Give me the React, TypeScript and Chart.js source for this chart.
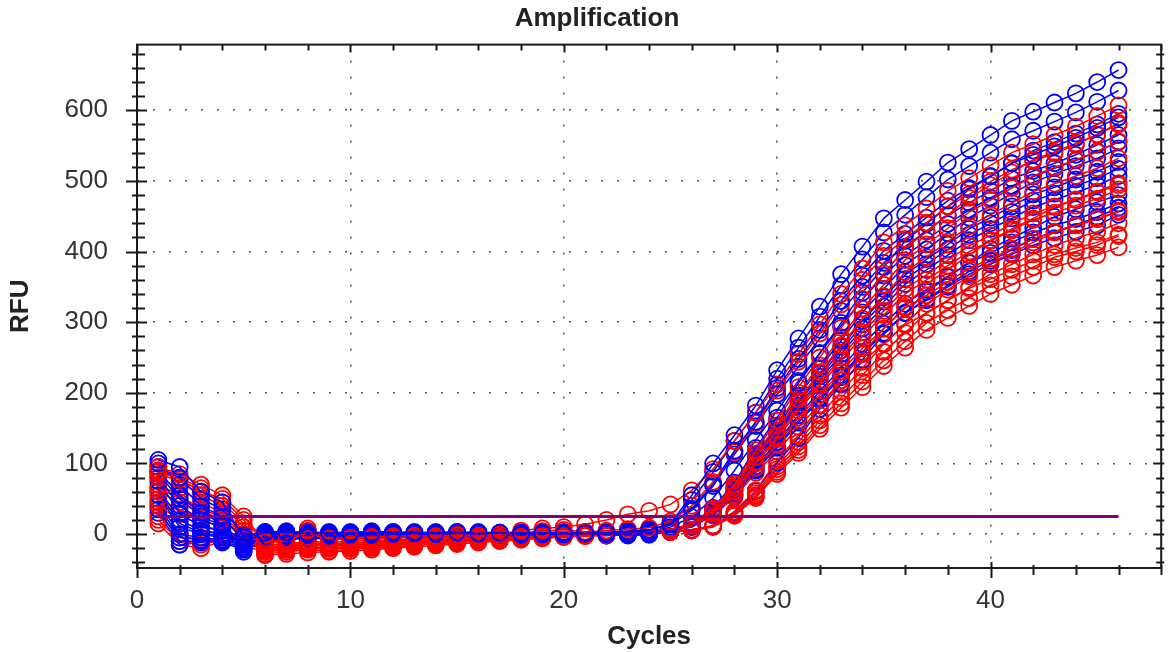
import React, { useEffect, useRef } from "react";
import { Chart, registerables } from "chart.js";

Chart.register(...registerables);

const CYCLES = [1, 2, 3, 4, 5, 6, 7, 8, 9, 10, 11, 12, 13, 14, 15, 16, 17, 18, 19, 20, 21, 22, 23, 24, 25, 26, 27, 28, 29, 30, 31, 32, 33, 34, 35, 36, 37, 38, 39, 40, 41, 42, 43, 44, 45, 46];

const BLUE_1 = [105, 95, 60, 45, -5, 2, 3, 1, 2, 1, 2, 3, 1, 2, 3, 1, 2, 1, 2, 0, 1, 2, 3, 5, 15, 55, 100, 140, 182, 232, 277, 322, 368, 407, 447, 473, 499, 526, 545, 565, 585, 598, 611, 624, 640, 657];
const BLUE_2 = [100, 70, 40, 25, -10, 0, 1, 2, 0, 1, 0, 1, 2, 1, 0, 1, 0, 1, 1, 0, 2, 1, 3, 6, 14, 48, 88, 132, 172, 220, 264, 308, 352, 389, 427, 452, 477, 502, 521, 540, 559, 571, 584, 597, 612, 628];
const BLUE_3 = [90, 55, 30, 15, -15, -3, -2, 0, -1, 0, -1, 0, 1, 0, -1, 0, 1, 0, -1, 0, 1, 0, 0, 2, 7, 14, 37, 73, 122, 165, 214, 256, 299, 342, 378, 415, 439, 464, 488, 506, 525, 543, 555, 567, 580, 595];
const BLUE_4 = [80, 40, 20, 10, -20, -5, -4, -3, -2, -3, -2, -1, -2, -1, 0, -1, 0, -1, 0, -1, 0, -1, 0, 1, 13, 34, 68, 113, 153, 198, 237, 277, 316, 350, 384, 407, 429, 452, 469, 486, 503, 514, 525, 537, 551, 565];
const BLUE_5 = [75, 30, 10, 5, -25, -8, -6, -5, -4, -5, -3, -2, -3, -2, -1, -2, -1, 0, -1, -2, -1, 0, -1, 0, 7, 13, 34, 67, 112, 151, 196, 235, 274, 314, 347, 381, 403, 426, 448, 465, 482, 498, 510, 521, 532, 546];
const BLUE_6 = [65, 20, 5, 0, -10, -2, 0, 1, 0, 2, 1, 0, 1, 2, 0, 1, 2, 1, 0, 1, 2, 1, 1, 3, 6, 12, 33, 65, 108, 146, 189, 227, 265, 302, 335, 367, 389, 410, 432, 448, 464, 481, 491, 502, 513, 527];
const BLUE_7 = [55, 10, 0, -5, -5, 3, 4, 2, 3, 2, 4, 3, 2, 3, 2, 3, 2, 1, 2, 3, 2, 1, 2, 4, 6, 12, 32, 62, 104, 140, 182, 218, 255, 291, 322, 354, 374, 395, 416, 432, 447, 463, 473, 484, 494, 507];
const BLUE_8 = [45, 0, -5, -8, -15, -6, -5, -4, -5, -3, -4, -2, -3, -2, -3, -2, -1, -2, -1, -2, -2, -1, -2, -1, 3, 6, 12, 31, 61, 101, 136, 177, 212, 247, 283, 313, 343, 364, 384, 404, 419, 434, 449, 460, 470, 480];
const BLUE_9 = [35, -10, -10, -10, -20, -10, -8, -6, -7, -5, -6, -4, -5, -3, -4, -3, -2, -3, -2, -3, -1, -2, -1, 1, 6, 11, 29, 58, 96, 130, 168, 202, 235, 269, 298, 326, 346, 365, 384, 398, 413, 427, 437, 446, 456, 468];
const BLUE_10 = [30, -15, -12, -5, -8, 0, 2, 3, 1, 2, 3, 2, 1, 2, 3, 2, 1, 2, 1, 2, 1, 2, 2, 3, 6, 11, 28, 55, 92, 124, 161, 193, 225, 258, 285, 313, 331, 350, 368, 382, 396, 409, 419, 428, 437, 452];
const BLUE_11 = [85, 50, 25, 12, -18, -4, -3, -1, -2, -1, -2, 0, -1, 0, -1, 0, -1, 0, 0, -1, 0, 0, 1, 2, 10, 24, 51, 90, 133, 175, 217, 256, 295, 332, 366, 394, 416, 439, 459, 476, 493, 506, 518, 529, 542, 555];
const BLUE_12 = [60, 15, 2, -3, -12, 1, 2, 0, 1, 3, 2, 1, 0, 1, 1, 2, 0, 2, 1, 0, 1, 0, 2, 2, 6, 12, 33, 64, 106, 143, 186, 223, 260, 297, 329, 361, 382, 403, 424, 440, 456, 472, 482, 493, 504, 517];
const BLUE_13 = [40, -5, -8, -12, -22, -8, -7, -5, -6, -4, -5, -3, -4, -2, -3, -2, -1, -2, -3, -2, -1, -2, 0, 1, 5, 10, 28, 55, 90, 122, 158, 190, 222, 255, 284, 313, 333, 352, 372, 387, 402, 418, 428, 438, 449, 462];
const BLUE_14 = [95, 80, 50, 35, -2, 3, 2, 3, 1, 2, 1, 2, 3, 1, 2, 0, 1, 2, 0, 1, 2, 2, 4, 6, 14, 36, 71, 118, 159, 207, 248, 289, 330, 366, 401, 425, 448, 472, 490, 507, 525, 537, 549, 561, 575, 590];

const RED_1 = [95, 85, 70, 55, 25, -10, -8, 5, -6, -5, -4, -3, -2, -3, -1, -2, 0, 5, 8, 10, 14, 20, 28, 33, 42, 62, 92, 132, 172, 212, 255, 297, 340, 376, 413, 437, 461, 486, 504, 522, 540, 552, 565, 577, 592, 607];
const RED_2 = [90, 80, 65, 45, 15, -20, -18, -15, -16, -14, -15, -13, -12, -10, -9, -8, -7, -5, -3, -2, 0, 2, 4, 6, 7, 14, 36, 71, 119, 161, 208, 250, 292, 333, 369, 405, 428, 452, 476, 494, 512, 530, 541, 553, 565, 582];
const RED_3 = [85, 75, 55, 40, 10, -25, -22, -20, -18, -20, -17, -15, -14, -12, -10, -9, -8, -6, -5, -3, -2, 0, 2, 5, 7, 13, 35, 68, 114, 154, 200, 239, 279, 319, 353, 388, 410, 433, 456, 473, 490, 507, 519, 530, 541, 556];
const RED_4 = [80, 65, 45, 30, 5, -28, -25, -22, -24, -21, -20, -18, -16, -14, -12, -10, -8, -7, -5, -4, -2, -1, 1, 3, 7, 13, 33, 65, 109, 147, 191, 229, 267, 305, 337, 371, 392, 414, 436, 452, 469, 485, 496, 507, 518, 532];
const RED_5 = [70, 55, 35, 25, 0, -30, -28, -26, -25, -24, -22, -20, -18, -16, -14, -12, -10, -8, -6, -4, -3, -2, 0, 1, 3, 6, 12, 32, 62, 104, 140, 182, 218, 255, 291, 322, 354, 374, 395, 416, 432, 447, 463, 473, 484, 494];
const RED_6 = [60, 45, 30, 20, -5, -22, -20, -18, -20, -17, -16, -14, -12, -11, -10, -8, -7, -5, -4, -2, 0, 1, 3, 4, 6, 12, 31, 60, 100, 135, 175, 210, 245, 280, 310, 340, 360, 380, 400, 415, 430, 445, 455, 465, 475, 488];
const RED_7 = [50, 35, 20, 10, -10, -18, -16, -12, -14, -13, -12, -10, -9, -8, -7, -6, -4, -3, -2, 0, 1, 2, 3, 5, 6, 11, 29, 56, 94, 127, 165, 197, 230, 263, 291, 320, 338, 357, 376, 390, 404, 418, 428, 437, 446, 458];
const RED_8 = [40, 20, 5, 0, -15, -15, -14, -10, -12, -10, -9, -8, -7, -6, -5, -4, -3, -2, -1, 0, 1, 2, 2, 3, 3, 6, 11, 28, 55, 92, 124, 161, 193, 225, 258, 285, 313, 331, 350, 368, 382, 396, 409, 419, 428, 440];
const RED_9 = [25, 0, -10, -5, -12, -12, -10, 8, -8, -7, -6, -5, -4, -4, -3, -2, -1, 0, 1, 2, 3, 3, 4, 5, 3, 5, 11, 27, 53, 88, 119, 154, 185, 216, 246, 273, 299, 317, 334, 352, 365, 378, 392, 400, 409, 422];
const RED_10 = [15, -15, -20, -10, -15, -20, -18, -16, -17, -15, -14, -12, -11, -10, -8, -7, -5, -4, -2, -1, 0, 1, 2, 3, 3, 5, 10, 26, 51, 85, 115, 149, 179, 208, 238, 264, 289, 306, 323, 340, 353, 366, 378, 387, 395, 406];
const RED_11 = [88, 78, 60, 50, 20, -12, -10, 2, -8, -7, -6, -5, -4, -4, -2, -3, -1, 2, 4, 6, 3, 5, 7, 9, 18, 40, 74, 116, 157, 203, 244, 284, 325, 360, 394, 418, 441, 464, 481, 499, 516, 528, 539, 551, 566, 580];
const RED_12 = [65, 50, 32, 22, -3, -25, -22, -20, -21, -19, -18, -16, -14, -12, -11, -9, -8, -6, -4, -3, -1, 1, 2, 4, 6, 12, 32, 61, 102, 138, 179, 214, 250, 286, 316, 347, 367, 388, 408, 423, 439, 454, 464, 474, 485, 497];
const RED_13 = [45, 28, 12, 5, -12, -18, -17, -14, -15, -13, -12, -10, -9, -8, -6, -5, -4, -3, -2, -1, 0, 1, 2, 3, 3, 6, 11, 29, 58, 96, 130, 168, 202, 235, 269, 298, 326, 346, 365, 384, 398, 413, 427, 437, 446, 456];
const RED_14 = [20, -10, -15, -8, -18, -24, -22, -19, -20, -18, -16, -14, -12, -11, -9, -8, -6, -5, -3, -2, -1, 0, 1, 2, 5, 10, 26, 52, 87, 117, 152, 183, 213, 244, 270, 296, 313, 331, 348, 361, 374, 387, 396, 405, 413, 424];

const BLUE_SERIES = [BLUE_1, BLUE_14, BLUE_2, BLUE_3, BLUE_11, BLUE_4, BLUE_5, BLUE_6, BLUE_12, BLUE_7, BLUE_8, BLUE_9, BLUE_13, BLUE_10];
const RED_SERIES = [RED_1, RED_11, RED_2, RED_3, RED_4, RED_12, RED_5, RED_6, RED_7, RED_13, RED_8, RED_9, RED_14, RED_10];

const THRESHOLD = 25;
const THRESHOLD_START = 1;
const THRESHOLD_END = 46;

const X_MIN = 0;
const X_MAX = 48;
const X_TICKS = [0, 10, 20, 30, 40];
const Y_MIN = -48;
const Y_MAX = 693;
const Y_TICKS = [0, 100, 200, 300, 400, 500, 600];

const TITLE = "Amplification";
const X_TITLE = "Cycles";
const Y_TITLE = "RFU";

const FONT = "'Liberation Sans', Arial, sans-serif";

const framePlugin = {
  id: "frameTicks",
  afterDraw(chart: any) {
    const { ctx, chartArea: a, scales } = chart;
    const x = scales.x;
    const y = scales.y;
    ctx.save();
    ctx.strokeStyle = "#1a1a1a";
    ctx.lineWidth = 2;
    ctx.strokeRect(a.left, a.top, a.right - a.left, a.bottom - a.top);
    ctx.beginPath();
    for (let v = X_MIN; v <= X_MAX; v += 2) {
      const px = Math.round(x.getPixelForValue(v)) + 0.5;
      const major = v % 10 === 0;
      ctx.moveTo(px, a.bottom - (major ? 6 : 3));
      ctx.lineTo(px, a.bottom + (major ? 10 : 7));
      ctx.moveTo(px, a.top);
      ctx.lineTo(px, a.top + (major ? 8 : 6));
    }
    for (let v = -40; v <= Y_MAX; v += 20) {
      const py = Math.round(y.getPixelForValue(v)) + 0.5;
      const major = v % 100 === 0;
      ctx.moveTo(a.left - (major ? 11 : 5), py);
      ctx.lineTo(a.left + (major ? 10 : 8), py);
      ctx.moveTo(a.right - (major ? 8 : 5), py);
      ctx.lineTo(a.right + 3, py);
    }
    ctx.stroke();
    ctx.restore();
  },
};

function makeSeries(values: number[], color: string) {
  return {
    type: "line",
    data: CYCLES.map((c, i) => ({ x: c, y: values[i] })),
    borderColor: color,
    borderWidth: 1.5,
    pointBorderColor: color,
    pointBackgroundColor: "rgba(0,0,0,0)",
    pointRadius: 8,
    pointBorderWidth: 1.8,
    pointStyle: "circle",
    fill: false,
    tension: 0,
  };
}

export default function App() {
  const ref = useRef<HTMLCanvasElement | null>(null);

  useEffect(() => {
    document.body.style.margin = "0";
    const canvas = ref.current;
    if (!canvas) return;

    const datasets: any[] = [
      {
        type: "line",
        data: [
          { x: THRESHOLD_START, y: THRESHOLD },
          { x: THRESHOLD_END, y: THRESHOLD },
        ],
        borderColor: "#800080",
        borderWidth: 3,
        pointRadius: 0,
        fill: false,
      },
    ];
    for (let i = 0; i < BLUE_SERIES.length; i++) {
      datasets.push(makeSeries(BLUE_SERIES[i], "#0000ff"));
      datasets.push(makeSeries(RED_SERIES[i], "#ff0000"));
    }

    const chart = new Chart(canvas, {
      type: "line",
      data: { datasets },
      plugins: [framePlugin],
      options: {
        responsive: false,
        animation: false,
        events: [],
        layout: { padding: { left: 28, right: 5, top: 0, bottom: 0 } },
        plugins: {
          legend: { display: false },
          tooltip: { enabled: false },
          title: {
            display: true,
            text: TITLE,
            color: "#222",
            font: { family: FONT, size: 26, weight: "bold" },
            padding: { top: 3, bottom: 10 },
          },
        },
        scales: {
          x: {
            type: "linear",
            min: X_MIN,
            max: X_MAX,
            afterBuildTicks: (s: any) => {
              s.ticks = X_TICKS.map((v) => ({ value: v }));
            },
            afterFit: (s: any) => {
              s.height = 84;
            },
            ticks: {
              padding: 17,
              color: "#333",
              font: { family: FONT, size: 26 },
              maxRotation: 0,
              autoSkip: false,
            },
            grid: { drawTicks: false, color: "#555", lineWidth: 1.6 },
            border: { display: false, dash: [2, 14] },
            title: {
              display: true,
              text: X_TITLE,
              color: "#222",
              font: { family: FONT, size: 26, weight: "bold" },
              padding: { top: 0, bottom: 0 },
            },
          },
          y: {
            type: "linear",
            min: Y_MIN,
            max: Y_MAX,
            afterBuildTicks: (s: any) => {
              s.ticks = Y_TICKS.map((v) => ({ value: v }));
            },
            afterFit: (s: any) => {
              s.width = 109;
            },
            ticks: {
              padding: 29,
              color: "#333",
              font: { family: FONT, size: 26 },
              autoSkip: false,
            },
            grid: { drawTicks: false, color: "#555", lineWidth: 1.6 },
            border: { display: false, dash: [2, 14] },
            title: {
              display: true,
              text: Y_TITLE,
              color: "#222",
              font: { family: FONT, size: 26, weight: "bold" },
              padding: { top: -22.6, bottom: 0 },
            },
          },
        },
      } as any,
    });

    return () => chart.destroy();
  }, []);

  return (
    <div style={{ width: 1171, height: 652 }}>
      <canvas ref={ref} width={1171} height={652} style={{ display: "block" }} />
    </div>
  );
}
